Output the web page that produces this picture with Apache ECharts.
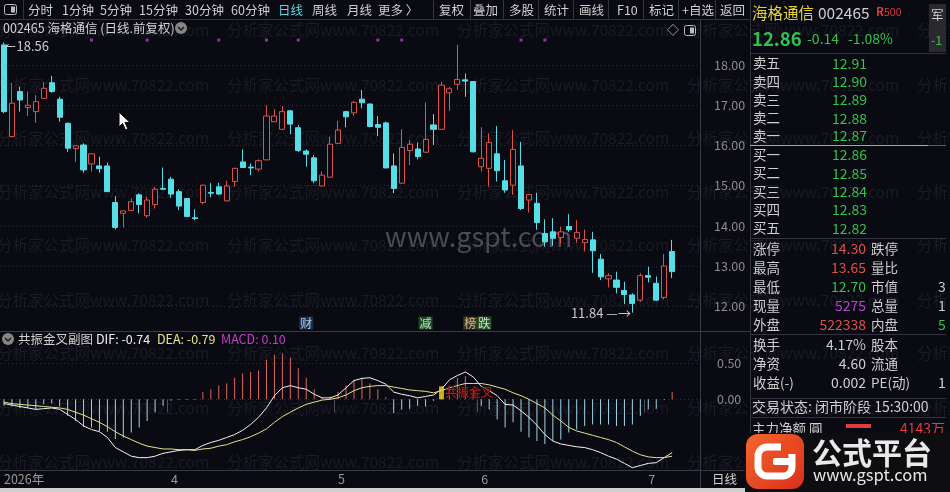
<!DOCTYPE html>
<html><head><meta charset="utf-8">
<script src="https://cdn.jsdelivr.net/npm/echarts@6/dist/echarts.min.js"></script>
<style>html,body{margin:0;padding:0;background:#0a0a12;}#c{width:950px;height:492px;}</style>
</head><body><div id="c"></div>
<script>
// ---------------- DATA ----------------
const dates = ['2026-03-03','2026-03-04','2026-03-05','2026-03-06','2026-03-09','2026-03-10','2026-03-11','2026-03-12','2026-03-13','2026-03-16','2026-03-17','2026-03-18','2026-03-19','2026-03-20','2026-03-23','2026-03-24','2026-03-25','2026-03-26','2026-03-27','2026-03-30','2026-03-31',
'2026-04-01','2026-04-02','2026-04-03','2026-04-07','2026-04-08','2026-04-09','2026-04-10','2026-04-13','2026-04-14','2026-04-15','2026-04-16','2026-04-17','2026-04-20','2026-04-21','2026-04-22','2026-04-23','2026-04-24','2026-04-27','2026-04-28','2026-04-29','2026-04-30',
'2026-05-06','2026-05-07','2026-05-08','2026-05-11','2026-05-12','2026-05-13','2026-05-14','2026-05-15','2026-05-18','2026-05-19','2026-05-20','2026-05-21','2026-05-22','2026-05-25','2026-05-26','2026-05-27','2026-05-28','2026-05-29',
'2026-06-01','2026-06-02','2026-06-03','2026-06-04','2026-06-05','2026-06-08','2026-06-09','2026-06-10','2026-06-11','2026-06-12','2026-06-15','2026-06-16','2026-06-17','2026-06-18','2026-06-22','2026-06-23','2026-06-24','2026-06-25','2026-06-26','2026-06-29','2026-06-30',
'2026-07-01','2026-07-02','2026-07-03','2026-07-06'];
const emptySlots = [' ', '  ', '   '];

const opens  = [18.50,16.22,17.34,16.94,16.84,17.17,17.56,17.15,16.55,15.92,16.01,15.54,15.49,15.49,14.58,14.31,14.38,14.77,14.25,14.53,14.93,15.16,14.85,14.68,14.20,14.58,14.83,14.97,14.62,15.10,15.59,15.46,15.41,15.64,16.59,16.40,16.86,16.44,15.86,15.69,14.99,15.21,16.05,16.84,16.81,17.15,17.03,16.52,16.56,15.49,15.06,15.87,15.91,15.83,16.51,16.40,17.31,17.52,17.63,17.59,15.47,15.43,15.79,15.12,15.01,15.49,14.64,14.56,13.81,13.85,13.71,13.98,13.69,13.58,13.65,13.17,12.68,12.65,12.39,12.28,12.15,12.76,12.57,12.22,13.36];
const closes = [16.84,17.05,17.13,17.00,17.09,17.42,17.34,16.70,15.93,15.99,15.39,15.79,15.42,14.85,13.96,14.37,14.60,14.53,14.64,14.91,14.91,14.79,14.49,14.23,14.18,15.01,14.81,14.79,14.99,15.43,15.45,15.44,15.62,16.73,16.73,16.84,16.53,15.87,15.78,15.12,15.26,16.03,16.38,16.71,17.07,17.06,16.47,16.45,15.44,14.93,15.95,16.03,15.72,16.15,16.40,17.50,17.41,17.64,17.60,15.84,15.68,16.07,15.37,14.89,15.90,14.43,14.78,14.08,13.60,13.69,13.85,13.90,13.83,13.66,13.38,12.73,12.76,12.47,12.29,12.07,12.76,12.72,12.15,13.00,12.86];
const lows   = [16.80,16.20,16.84,16.73,16.56,17.15,17.31,16.59,15.84,15.59,15.32,15.35,15.32,14.84,13.91,13.96,14.37,14.31,14.20,14.43,14.90,14.70,14.39,14.22,14.14,14.54,14.71,14.77,14.61,14.97,15.44,15.26,15.35,15.63,16.58,16.39,16.28,15.84,15.47,15.06,14.98,15.20,16.04,16.45,16.73,16.92,16.45,16.23,15.43,14.81,15.05,15.51,15.65,15.82,16.01,16.39,16.86,17.38,17.21,15.83,15.35,14.97,15.10,14.82,14.77,14.39,14.33,13.90,13.48,13.50,13.56,13.85,13.58,13.36,12.83,12.65,12.47,12.32,12.05,11.84,12.11,12.59,12.13,12.17,12.70];
const highs  = [18.56,17.55,17.46,17.34,17.25,17.58,17.73,17.21,16.57,16.00,16.05,15.80,15.72,15.57,14.74,14.38,14.68,14.81,14.72,14.97,15.45,15.22,14.91,14.69,14.41,15.02,15.06,15.07,15.12,15.44,15.90,15.55,15.65,17.00,16.90,16.98,16.87,16.51,15.90,15.76,15.35,16.22,16.61,16.86,17.11,17.38,17.04,16.73,16.59,15.80,16.40,16.13,16.07,17.07,16.78,17.58,17.46,18.50,17.79,17.60,16.45,16.30,16.48,15.64,16.38,16.09,14.79,14.82,14.16,14.19,13.98,14.29,14.14,13.91,13.85,13.30,12.82,12.86,12.61,12.32,12.82,12.98,12.74,13.30,13.65];

const dif  = [-0.06,-0.08,-0.10,-0.12,-0.14,-0.13,-0.12,-0.14,-0.21,-0.28,-0.37,-0.42,-0.45,-0.53,-0.67,-0.73,-0.79,-0.81,-0.81,-0.79,-0.75,-0.73,-0.71,-0.70,-0.70,-0.64,-0.60,-0.57,-0.53,-0.49,-0.43,-0.35,-0.25,-0.12,0.05,0.16,0.19,0.16,0.14,0.07,0.02,0.02,0.06,0.16,0.26,0.29,0.30,0.26,0.21,0.10,0.07,0.05,0.02,0.04,0.06,0.14,0.27,0.33,0.38,0.31,0.18,0.12,0.05,-0.07,-0.08,-0.16,-0.25,-0.36,-0.49,-0.58,-0.62,-0.64,-0.66,-0.67,-0.70,-0.74,-0.79,-0.83,-0.89,-0.95,-0.92,-0.89,-0.88,-0.81,-0.74];
const dea  = [-0.04,-0.06,-0.07,-0.08,-0.09,-0.10,-0.11,-0.12,-0.14,-0.18,-0.22,-0.27,-0.32,-0.38,-0.45,-0.51,-0.56,-0.61,-0.65,-0.67,-0.69,-0.69,-0.70,-0.70,-0.71,-0.69,-0.68,-0.65,-0.63,-0.59,-0.56,-0.52,-0.47,-0.41,-0.32,-0.24,-0.18,-0.12,-0.07,-0.04,-0.01,0.00,0.02,0.06,0.12,0.16,0.18,0.19,0.19,0.17,0.15,0.13,0.12,0.11,0.09,0.12,0.16,0.19,0.22,0.22,0.22,0.20,0.17,0.14,0.09,0.05,0.00,-0.06,-0.12,-0.22,-0.30,-0.39,-0.44,-0.47,-0.50,-0.53,-0.56,-0.60,-0.66,-0.72,-0.77,-0.80,-0.81,-0.81,-0.79];
const macd = [-0.09,-0.10,-0.12,-0.12,-0.14,-0.07,-0.06,-0.10,-0.23,-0.30,-0.38,-0.39,-0.44,-0.45,-0.55,-0.53,-0.46,-0.39,-0.30,-0.18,-0.09,-0.02,-0.01,-0.01,-0.01,0.10,0.14,0.19,0.22,0.30,0.36,0.38,0.40,0.55,0.62,0.64,0.58,0.43,0.30,0.14,0.02,0.04,0.10,0.19,0.27,0.30,0.22,0.14,0.03,-0.19,-0.14,-0.13,-0.09,-0.10,-0.02,0.07,0.19,0.30,0.32,0.14,-0.09,-0.14,-0.28,-0.39,-0.32,-0.45,-0.53,-0.58,-0.62,-0.58,-0.56,-0.46,-0.42,-0.37,-0.35,-0.35,-0.35,-0.37,-0.37,-0.35,-0.23,-0.14,-0.13,-0.01,0.10];

const priceTicks = [12, 13, 14, 15, 16, 17, 18];
const macdTicks = [0, 0.5];
const markerDays = [11, 18, 27, 33, 37, 47, 50, 65, 68];
const eventDays = [38, 53, 59];
const eventTexts = [['财'], ['减'], ['榜', '跌']];
const crossDay = 55;
const crossText = '共振金叉';

// ---------------- STYLE ----------------
const BG = '#0a0a12', RED = '#de5149', CYAN = '#56dde6';
const FONT = "'Noto Sans CJK SC','Noto Sans',sans-serif";
const chipStyles = [
  {color:'#dbe8ff', backgroundColor:'#1f3a5e'},
  {color:'#e0ffe0', backgroundColor:'#1f5d27'},
  {color:'#f3d9a8', backgroundColor:'#4a4128'},
  {color:'#ffffff', backgroundColor:'#2d6a30'}
];
const eventChips = [[0], [1], [2, 3]];
const eventOffsets = [[0, 0], [0, 0], [4, 0]];

const cats = dates.concat(emptySlots);
const mon = d => d.slice(5, 7);
const isMonthStart = i => i > 0 && i < dates.length && mon(dates[i]) !== mon(dates[i - 1]);

let maxI = 0, minI = 0;
highs.forEach((h, i) => { if (h > highs[maxI]) maxI = i; });
lows.forEach((l, i) => { if (l < lows[minI]) minI = i; });

function T(x, y, text, fill, size, extra) {
  const st = Object.assign({text, fill, fontSize: size, fontFamily: FONT, verticalAlign: 'middle', align: 'left'}, extra || {});
  return {type: 'text', x, y, silent: true, style: st};
}
function L(x1, y1, x2, y2, stroke, w) {
  return {type: 'line', silent: true, shape: {x1, y1, x2, y2}, style: {stroke, lineWidth: w || 1}};
}
function R(x, y, w, h, fill, extra) {
  return Object.assign({type: 'rect', silent: true, shape: {x, y, width: w, height: h}, style: {fill}}, extra || {});
}

const g = [];
// watermark
const wm = '分析家公式网www.70822.com';
[30, 85, 138, 192, 245, 300, 353, 408, 462].forEach(y => {
  for (let k = 0; k < 5; k++) g.push(T(-3 + 230 * k, y, wm, '#1b1b25', 15.5));
});
g.push(T(385, 237, 'www.gspt.com', '#4b4b54', 27));

// toolbar
g.push({type: 'rect', silent: true, shape: {x: 4.5, y: 4.5, width: 12, height: 10, r: 2}, style: {fill: 'none', stroke: '#bbb', lineWidth: 1}});
g.push(R(11, 6.5, 4, 6, '#bbb'));
const tb = [['分时',28],['1分钟',62],['5分钟',100],['15分钟',139],['30分钟',185],['60分钟',231],['日线',278],['周线',312],['月线',347],['更多 〉',378],['复权',439],['叠加',473],['多股',509],['统计',544],['画线',579],['F10',617],['标记',649],['+自选',682],['返回',720]];
tb.forEach(([s, x]) => g.push(T(x, 10, s, s === '日线' ? '#5fd6de' : '#cfcfcf', 12.5)));
[23, 433, 470, 503, 538, 573, 608, 643, 678, 715].forEach(x => g.push(L(x + 0.5, 0, x + 0.5, 19, '#34343e')));
g.push(L(0, 19.5, 750, 19.5, '#34343e'));

// title row
g.push(T(3, 28, '002465 海格通信 (日线.前复权)', '#d2d2d2', 12.5));
g.push({type: 'circle', silent: true, shape: {cx: 181, cy: 28, r: 6}, style: {fill: '#858585'}});
g.push({type: 'polyline', silent: true, shape: {points: [[178, 27], [181, 30], [184, 27]]}, style: {stroke: '#1a1a1a', lineWidth: 1.5, fill: 'none'}});
g.push(T(667, 30, '◇', '#bbbbbb', 12));
g.push({type: 'rect', silent: true, shape: {x: 684.5, y: 25.5, width: 11, height: 10, r: 2}, style: {fill: 'none', stroke: '#bbb', lineWidth: 1}});
g.push(R(690, 27.5, 4, 6, '#bbb'));

// frame lines
g.push(L(700.5, 19.5, 700.5, 488, '#3a3a46'));
g.push(L(0, 331.5, 750, 331.5, '#3a3a46'));
g.push(L(0, 470.5, 750, 470.5, '#3a3a46'));
g.push(L(750.5, 0, 750.5, 492, '#30303a'));
g.push(R(0, 488, 750, 4, '#cfcfcf'));

// MACD header
g.push({type: 'circle', silent: true, shape: {cx: 8, cy: 339, r: 6}, style: {fill: '#858585'}});
g.push({type: 'polyline', silent: true, shape: {points: [[5, 338], [8, 341], [11, 338]]}, style: {stroke: '#1a1a1a', lineWidth: 1.5, fill: 'none'}});
g.push(T(18, 339, '共振金叉副图', '#d2d2d2', 12.5));
g.push(T(96, 339, 'DIF: -0.74', '#f0f0f0', 12.5));
g.push(T(157, 339, 'DEA: -0.79', '#e6e28a', 12.5));
g.push(T(221, 339, 'MACD: 0.10', '#c23fc6', 12.5));
g.push(T(712, 479, '日线', '#cfcfcf', 12.5));

// right panel
const GREEN = '#33c04e', PRED = '#e0504a', GRAY = '#cfcfcf';
g.push(T(752, 13, '海格通信', '#e3d23a', 15.5));
g.push(T(818, 13, '002465', GRAY, 15.5));
g.push(T(876, 12, 'R', '#e03a3a', 11.5, {fontWeight: 'bold'}));
g.push(T(884, 12, '500', '#e03a3a', 10.5));
g.push(R(929, 4, 17, 48, '#2a2a2e'));
g.push(T(931, 15, '军', GRAY, 12.5));
g.push(T(931, 40, '-1', GREEN, 12.5));
g.push(T(752, 39, '12.86', GREEN, 18.5, {fontWeight: 'bold'}));
g.push(T(807, 39, '-0.14', GREEN, 14));
g.push(T(848, 39, '-1.08%', GREEN, 14));
g.push(L(750, 53.5, 946, 53.5, '#33333d'));
const sellL = ['卖五','卖四','卖三','卖二','卖一'], sellV = ['12.91','12.90','12.89','12.88','12.87'];
const buyL = ['买一','买二','买三','买四','买五'], buyV = ['12.86','12.85','12.84','12.83','12.82'];
[63.3, 81.7, 100, 118.3, 136].forEach((y, i) => { g.push(T(753, y, sellL[i], GRAY, 13.5)); g.push(T(832, y, sellV[i], GREEN, 14)); });
g.push(L(750, 145.5, 928, 145.5, '#c9a274'));
g.push(L(928, 145.5, 946, 145.5, '#3d5f91'));
[155, 173.3, 191.7, 210, 228.3].forEach((y, i) => { g.push(T(753, y, buyL[i], GRAY, 13.5)); g.push(T(832, y, buyV[i], GREEN, 14)); });
g.push(L(750, 238.5, 946, 238.5, '#33333d'));
const rows1 = [
  ['涨停','14.30',PRED,'跌停','',GRAY, 249],
  ['最高','13.65',PRED,'量比','',GRAY, 268],
  ['最低','12.70',GREEN,'市值','3',GRAY, 287],
  ['现量','5275','#b545d2','总量','1',GRAY, 306],
  ['外盘','522338',PRED,'内盘','5',GREEN, 324.5]
];
rows1.forEach(r => {
  g.push(T(753, r[6], r[0], GRAY, 13.5));
  g.push(T(866, r[6], r[1], r[2], 14, {align: 'right'}));
  g.push(T(871, r[6], r[3], GRAY, 13.5));
  if (r[4]) g.push(T(938, r[6], r[4], r[5], 14));
});
g.push(L(750, 334.5, 946, 334.5, '#33333d'));
const rows2 = [['换手','4.17%','股本',345],['净资','4.60','流通',364],['收益(-)','0.002','PE(动)',383]];
rows2.forEach(r => {
  g.push(T(753, r[3], r[0], GRAY, 13.5));
  g.push(T(866, r[3], r[1], GRAY, 14, {align: 'right'}));
  g.push(T(871, r[3], r[2], GRAY, 13.5));
});
g.push(T(938, 383, '1', GRAY, 14));
g.push(L(750, 398.5, 946, 398.5, '#33333d'));
g.push(T(752, 407, '交易状态: 闭市阶段 15:30:00', GRAY, 14));
g.push(L(750, 417.5, 946, 417.5, '#33333d'));
g.push(T(752, 429, '主力净额 圓', GRAY, 13.5));
g.push(R(846, 424, 25, 4, '#e23c3c'));
g.push(T(945, 429, '4143万', '#e23c3c', 14, {align: 'right'}));
// logo overlay
g.push(R(745, 433, 205, 59, '#0e0e11'));
g.push(T(752, 445, '15:10', '#1f1f24', 13));
g.push(T(752, 470, '15:10', '#1f1f24', 13));
g.push({type: 'rect', silent: true, shape: {x: 746, y: 434, width: 58, height: 55, r: 12},
  style: {fill: new echarts.graphic.LinearGradient(0, 0, 1, 1, [{offset: 0, color: '#f4662b'}, {offset: 1, color: '#d8301d'}])}});
g.push({type: 'rect', silent: true, shape: {x: 758, y: 447, width: 34, height: 29, r: 9}, style: {fill: 'none', stroke: '#ffffff', lineWidth: 7}});
g.push(R(781, 441, 16, 13, '#e9491f'));
g.push({type: 'rect', silent: true, shape: {x: 773, y: 458, width: 22, height: 7, r: 2}, style: {fill: '#ffffff'}});
g.push(T(812, 453, '公式平台', '#e9e9e9', 30, {fontWeight: 'bold'}));
g.push(T(813, 475, 'www.gspt.com', '#e9e9e9', 16.5));
// cursor
g.push({type: 'polygon', silent: true, z: 50, shape: {points: [[119, 112], [119, 127], [122.5, 123.5], [125.5, 130], [128, 129], [125, 122.5], [130, 122.5]]}, style: {fill: '#f2f2f2', stroke: '#000', lineWidth: 1}});

// ---------------- CHART ----------------
const chart = echarts.init(document.getElementById('c'), null, {renderer: 'canvas'});
const richChips = {};
chipStyles.forEach((s, k) => { richChips['c' + k] = Object.assign({fontSize: 12, padding: [1, 1, 0, 1], fontFamily: FONT}, s); });
const option = {
  backgroundColor: BG,
  animation: false,
  textStyle: {fontFamily: FONT},
  graphic: {elements: g},
  grid: [
    {left: 0, width: 700, top: 24.8, height: 321.6},
    {left: 0, width: 700, top: 327.3, height: 144}
  ],
  xAxis: [
    {type: 'category', gridIndex: 0, data: cats, boundaryGap: true, show: false},
    {type: 'category', gridIndex: 1, data: cats, boundaryGap: true,
      axisLine: {show: false},
      axisTick: {show: true, length: 13, lineStyle: {color: '#50505c'}, interval: i => isMonthStart(i)},
      axisLabel: {color: '#9a9a9a', fontSize: 12.5, margin: 2, align: 'left',
        interval: i => i === 0 || isMonthStart(i),
        formatter: (v, i) => i === 0 ? '2026年' : String(parseInt(mon(v), 10))},
      splitLine: {show: false}}
  ],
  yAxis: [
    {type: 'value', gridIndex: 0, position: 'right', min: 11, max: 19, interval: 1,
      axisLine: {show: false}, axisTick: {show: false}, splitLine: {show: false},
      axisLabel: {color: '#8c8c8c', fontSize: 12.5, margin: 14,
        formatter: v => (v >= 12 && v <= 18) ? v.toFixed(2) : ''}},
    {type: 'value', gridIndex: 1, position: 'right', min: -1, max: 1, interval: 0.5,
      axisLine: {show: false}, axisTick: {show: false}, splitLine: {show: false},
      axisLabel: {color: '#8c8c8c', fontSize: 12.5, margin: 17,
        formatter: v => (Math.abs(v) < 1e-9) ? '0.00' : (Math.abs(v - 0.5) < 1e-9 ? '0.50' : '')}}
  ],
  series: [
    {type: 'line', xAxisIndex: 0, yAxisIndex: 0, data: dates.map(() => null), silent: true, z: 1,
      markLine: {silent: true, z: 1, symbol: ['none', 'none'], label: {show: false},
        lineStyle: {color: '#2b2b36', type: [1, 3], width: 1},
        data: priceTicks.map(v => ({yAxis: v}))}},
    {type: 'candlestick', xAxisIndex: 0, yAxisIndex: 0, z: 3, barWidth: '70%',
      data: dates.map((d, i) => [opens[i], closes[i], lows[i], highs[i]]),
      itemStyle: {color: BG, color0: CYAN, borderColor: RED, borderColor0: CYAN, borderWidth: 1},
      markPoint: {symbol: 'circle', symbolSize: 1, itemStyle: {color: 'rgba(0,0,0,0)'}, silent: true,
        data: [
          {coord: [maxI, highs[maxI]], label: {show: true, position: 'right', distance: 1, offset: [0, 4], color: '#c8c8c8', fontSize: 13,
            formatter: '↼' + highs[maxI].toFixed(2)}},
          {coord: [minI, lows[minI]], label: {show: true, position: 'left', distance: 1, color: '#c8c8c8', fontSize: 13,
            formatter: lows[minI].toFixed(2) + ' —→'}}
        ]}},
    {type: 'scatter', xAxisIndex: 0, yAxisIndex: 0, symbol: 'rect', symbolSize: 3, z: 4, silent: true,
      itemStyle: {color: '#b23ec6'},
      data: markerDays.map(i => [i, 18.62])},
    {type: 'scatter', xAxisIndex: 0, yAxisIndex: 0, symbolSize: 0, z: 4, silent: true,
      data: eventDays.map((d, k) => ({value: [d, 11.58],
        label: {show: true, position: 'inside', offset: eventOffsets[k], rich: richChips,
          formatter: eventTexts[k].map((t, j) => '{c' + eventChips[k][j] + '|' + t + '}').join('')}}))},
    {type: 'bar', xAxisIndex: 1, yAxisIndex: 1, barWidth: 1, silent: true, z: 2,
      data: macd,
      itemStyle: {color: p => p.value >= 0 ? '#e0665c' : '#9fd6ea'}},
    {type: 'line', xAxisIndex: 1, yAxisIndex: 1, data: dif, showSymbol: false, silent: true, z: 3,
      lineStyle: {color: '#f2f2f2', width: 1},
      markLine: {silent: true, z: 1, symbol: ['none', 'none'], label: {show: false},
        lineStyle: {color: '#2b2b36', type: [1, 3], width: 1},
        data: macdTicks.map(v => ({yAxis: v}))}},
    {type: 'line', xAxisIndex: 1, yAxisIndex: 1, data: dea, showSymbol: false, silent: true, z: 3,
      lineStyle: {color: '#e6e28a', width: 1}},
    {type: 'scatter', xAxisIndex: 1, yAxisIndex: 1, symbol: 'rect', symbolSize: [5, 13], z: 5, silent: true,
      itemStyle: {color: '#f2d21a'},
      label: {show: true, position: 'right', distance: 1, formatter: crossText, color: '#d42222', fontSize: 12,
        textBorderColor: '#3a0808', textBorderWidth: 1},
      data: [[crossDay, 0.09]]}
  ]
};
chart.setOption(option);
</script></body></html>
